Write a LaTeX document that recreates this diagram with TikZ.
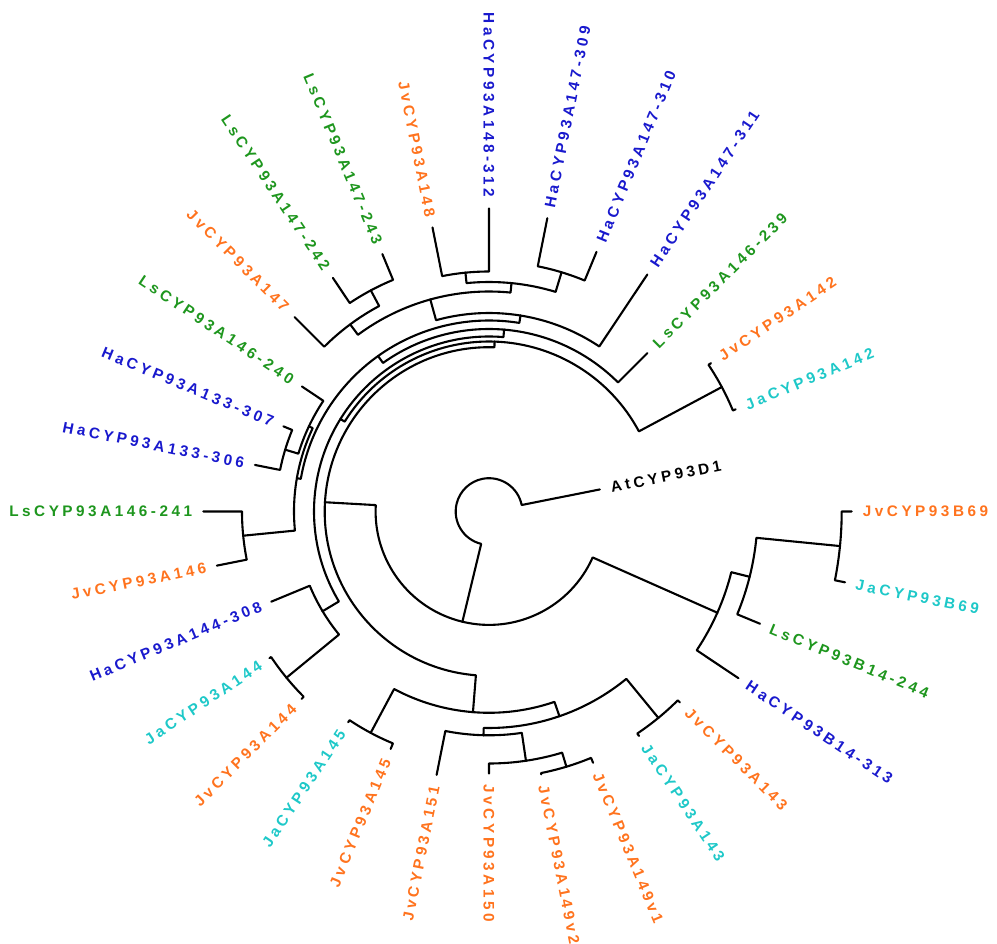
\documentclass[tikz,border=0pt]{standalone}
\usepackage{fontspec}
\newfontfamily\labfont{Liberation Sans}[LetterSpace=23]
\definecolor{hablue}{RGB}{25,25,205}
\definecolor{lsgreen}{RGB}{30,150,30}
\definecolor{jvorange}{RGB}{255,115,30}
\definecolor{jacyan}{RGB}{30,200,200}

% polar tree helpers: every node stores its angle and radius
\newcommand\setnode[3]{%
  \expandafter\xdef\csname tha-#1\endcsname{#2}%
  \expandafter\xdef\csname rad-#1\endcsname{#3}%
  \coordinate (#1) at (#2:#3pt);}
% elbow connector: radial from the child down to the parent radius, then along the parent arc
\newcommand\branch[2]{%
  \edef\thc{\csname tha-#1\endcsname}%
  \edef\thp{\csname tha-#2\endcsname}%
  \edef\rp{\csname rad-#2\endcsname}%
  \coordinate (#1-foot) at (\thc:\rp pt);
  \draw[branch] (#1) -- (#1-foot) arc[start angle=\thc, end angle=\thp, radius=\rp pt];}
% internal node halfway between its two children
\newcommand\joinnode[4]{%
  \pgfmathsetmacro\tmpth{(\csname tha-#2\endcsname+\csname tha-#3\endcsname)/2}%
  \setnode{#1}{\tmpth}{#4}%
  \branch{#2}{#1}\branch{#3}{#1}}
% leaf tip with its radial label
\newcommand\leaf[5]{%
  \setnode{#1}{#2}{#3}%
  \pgfmathsetmacro\lr{#3+11}%
  \pgfmathsetmacro\lnorm{mod(#2+720,360)}%
  \pgfmathtruncatemacro\lleft{and(\lnorm>89.9,\lnorm<269.9)}%
  \ifnum\lleft=1
    \pgfmathsetmacro\lrot{#2+180}%
    \node[lab,text=#4,anchor=east,rotate=\lrot] (#1-label) at (#2:\lr pt) {#5};%
  \else
    \node[lab,text=#4,anchor=west,rotate=#2] (#1-label) at (#2:\lr pt) {#5};%
  \fi}

\begin{document}
\begin{tikzpicture}[x=1pt,y=1pt,
  branch/.style={line width=2.1pt,line cap=round,line join=round},
  lab/.style={font=\labfont\bfseries\fontsize{15.3pt}{15.3pt}\selectfont,
    inner sep=0pt,text height=10.9pt,text depth=0pt}]
\useasboundingbox (-489,-432.5) rectangle (508,511.5);

% leaves: name, angle, tip radius, colour, label
\leaf{ha148-312}{90}{303}{hablue}{HaCYP93A148-312}
\leaf{ha147-309}{78.75}{299}{hablue}{HaCYP93A147-309}
\leaf{ha147-310}{67.5}{281}{hablue}{HaCYP93A147-310}
\leaf{ha147-311}{56.25}{285}{hablue}{HaCYP93A147-311}
\leaf{ls146-239}{45}{224}{lsgreen}{LsCYP93A146-239}
\leaf{jv142}{33.75}{267}{jvorange}{JvCYP93A142}
\leaf{ja142}{22.5}{267}{jacyan}{JaCYP93A142}
\leaf{at}{11.25}{113}{black}{AtCYP93D1}
\leaf{jvb69}{360}{362.7}{jvorange}{JvCYP93B69}
\leaf{jab69}{348.75}{363}{jacyan}{JaCYP93B69}
\leaf{lsb14}{337.5}{293.4}{lsgreen}{LsCYP93B14-244}
\leaf{hab14}{326.25}{300}{hablue}{HaCYP93B14-313}
\leaf{jv143}{315}{270}{jvorange}{JvCYP93A143}
\leaf{ja143}{303.75}{270}{jacyan}{JaCYP93A143}
\leaf{jv149a}{292.5}{272}{jvorange}{JvCYP93A149v1}
\leaf{jv149b}{281.25}{268}{jvorange}{JvCYP93A149v2}
\leaf{jv150}{270}{262}{jvorange}{JvCYP93A150}
\leaf{jv151}{258.75}{268.6}{jvorange}{JvCYP93A151}
\leaf{jv145}{247.5}{257}{jvorange}{JvCYP93A145}
\leaf{ja145}{236.25}{253.5}{jacyan}{JaCYP93A145}
\leaf{jv144}{225}{265}{jvorange}{JvCYP93A144}
\leaf{ja144}{213.75}{264}{jacyan}{JaCYP93A144}
\leaf{ha144}{202.5}{235.7}{hablue}{HaCYP93A144-308}
\leaf{jv146}{191.25}{277.5}{jvorange}{JvCYP93A146}
\leaf{ls146-241}{180}{285.7}{lsgreen}{LsCYP93A146-241}
\leaf{ha133-306}{168.75}{238.6}{hablue}{HaCYP93A133-306}
\leaf{ha133-307}{157.5}{222.5}{hablue}{HaCYP93A133-307}
\leaf{ls146-240}{146.25}{225}{lsgreen}{LsCYP93A146-240}
\leaf{jv147}{135}{275}{jvorange}{JvCYP93A147}
\leaf{ls147-242}{123.75}{281}{lsgreen}{LsCYP93A147-242}
\leaf{ls147-243}{112.5}{278.6}{lsgreen}{LsCYP93A147-243}
\leaf{jv148}{101.25}{289.6}{jvorange}{JvCYP93A148}

% internal nodes: name, child, child, radius
\joinnode{n31-0}{jv148}{ha148-312}{240}
\joinnode{n1-2}{ha147-309}{ha147-310}{250}
\joinnode{n29-30}{ls147-242}{ls147-243}{250.7}
\joinnode{n28}{jv147}{n29-30}{233}
\joinnode{ntop}{n31-0}{n1-2}{229.5}
\joinnode{nP}{n28}{ntop}{220}
\joinnode{nQ}{nP}{ha147-311}{198.5}
\joinnode{n25-26}{ha133-306}{ha133-307}{213}
\joinnode{nW}{n25-26}{ls146-240}{199.2}
\joinnode{n23-24}{jv146}{ls146-241}{247}
\joinnode{nV}{n23-24}{nW}{195}
\joinnode{nS}{nV}{nQ}{191}
\joinnode{nR}{nS}{ls146-239}{182.5}
\joinnode{n20-21}{jv144}{ja144}{262}
\joinnode{nY}{ha144}{n20-21}{194}
\joinnode{nT}{nR}{nY}{175}
\joinnode{n5-6}{jv142}{ja142}{264}
\joinnode{nA2}{nT}{n5-6}{170}
\joinnode{n18-19}{jv145}{ja145}{251}
\joinnode{n14-15}{jv149a}{jv149b}{266.7}
\joinnode{nA1d}{jv150}{n14-15}{252}
\joinnode{nA1c}{jv151}{nA1d}{223.8}
\joinnode{n12-13}{jv143}{ja143}{267}
\joinnode{nA1b}{nA1c}{n12-13}{216.5}
\joinnode{nA1}{n18-19}{nA1b}{201.3}
\joinnode{nA}{nA2}{nA1}{164.3}
\joinnode{n8-9}{jvb69}{jab69}{352.7}
\joinnode{nB2}{n8-9}{lsb14}{268.7}
\joinnode{nB}{nB2}{hab14}{249.8}
\joinnode{nR1}{nA}{nB}{113.4}
\joinnode{nroot}{at}{nR1}{33.3}
\end{tikzpicture}
\end{document}
